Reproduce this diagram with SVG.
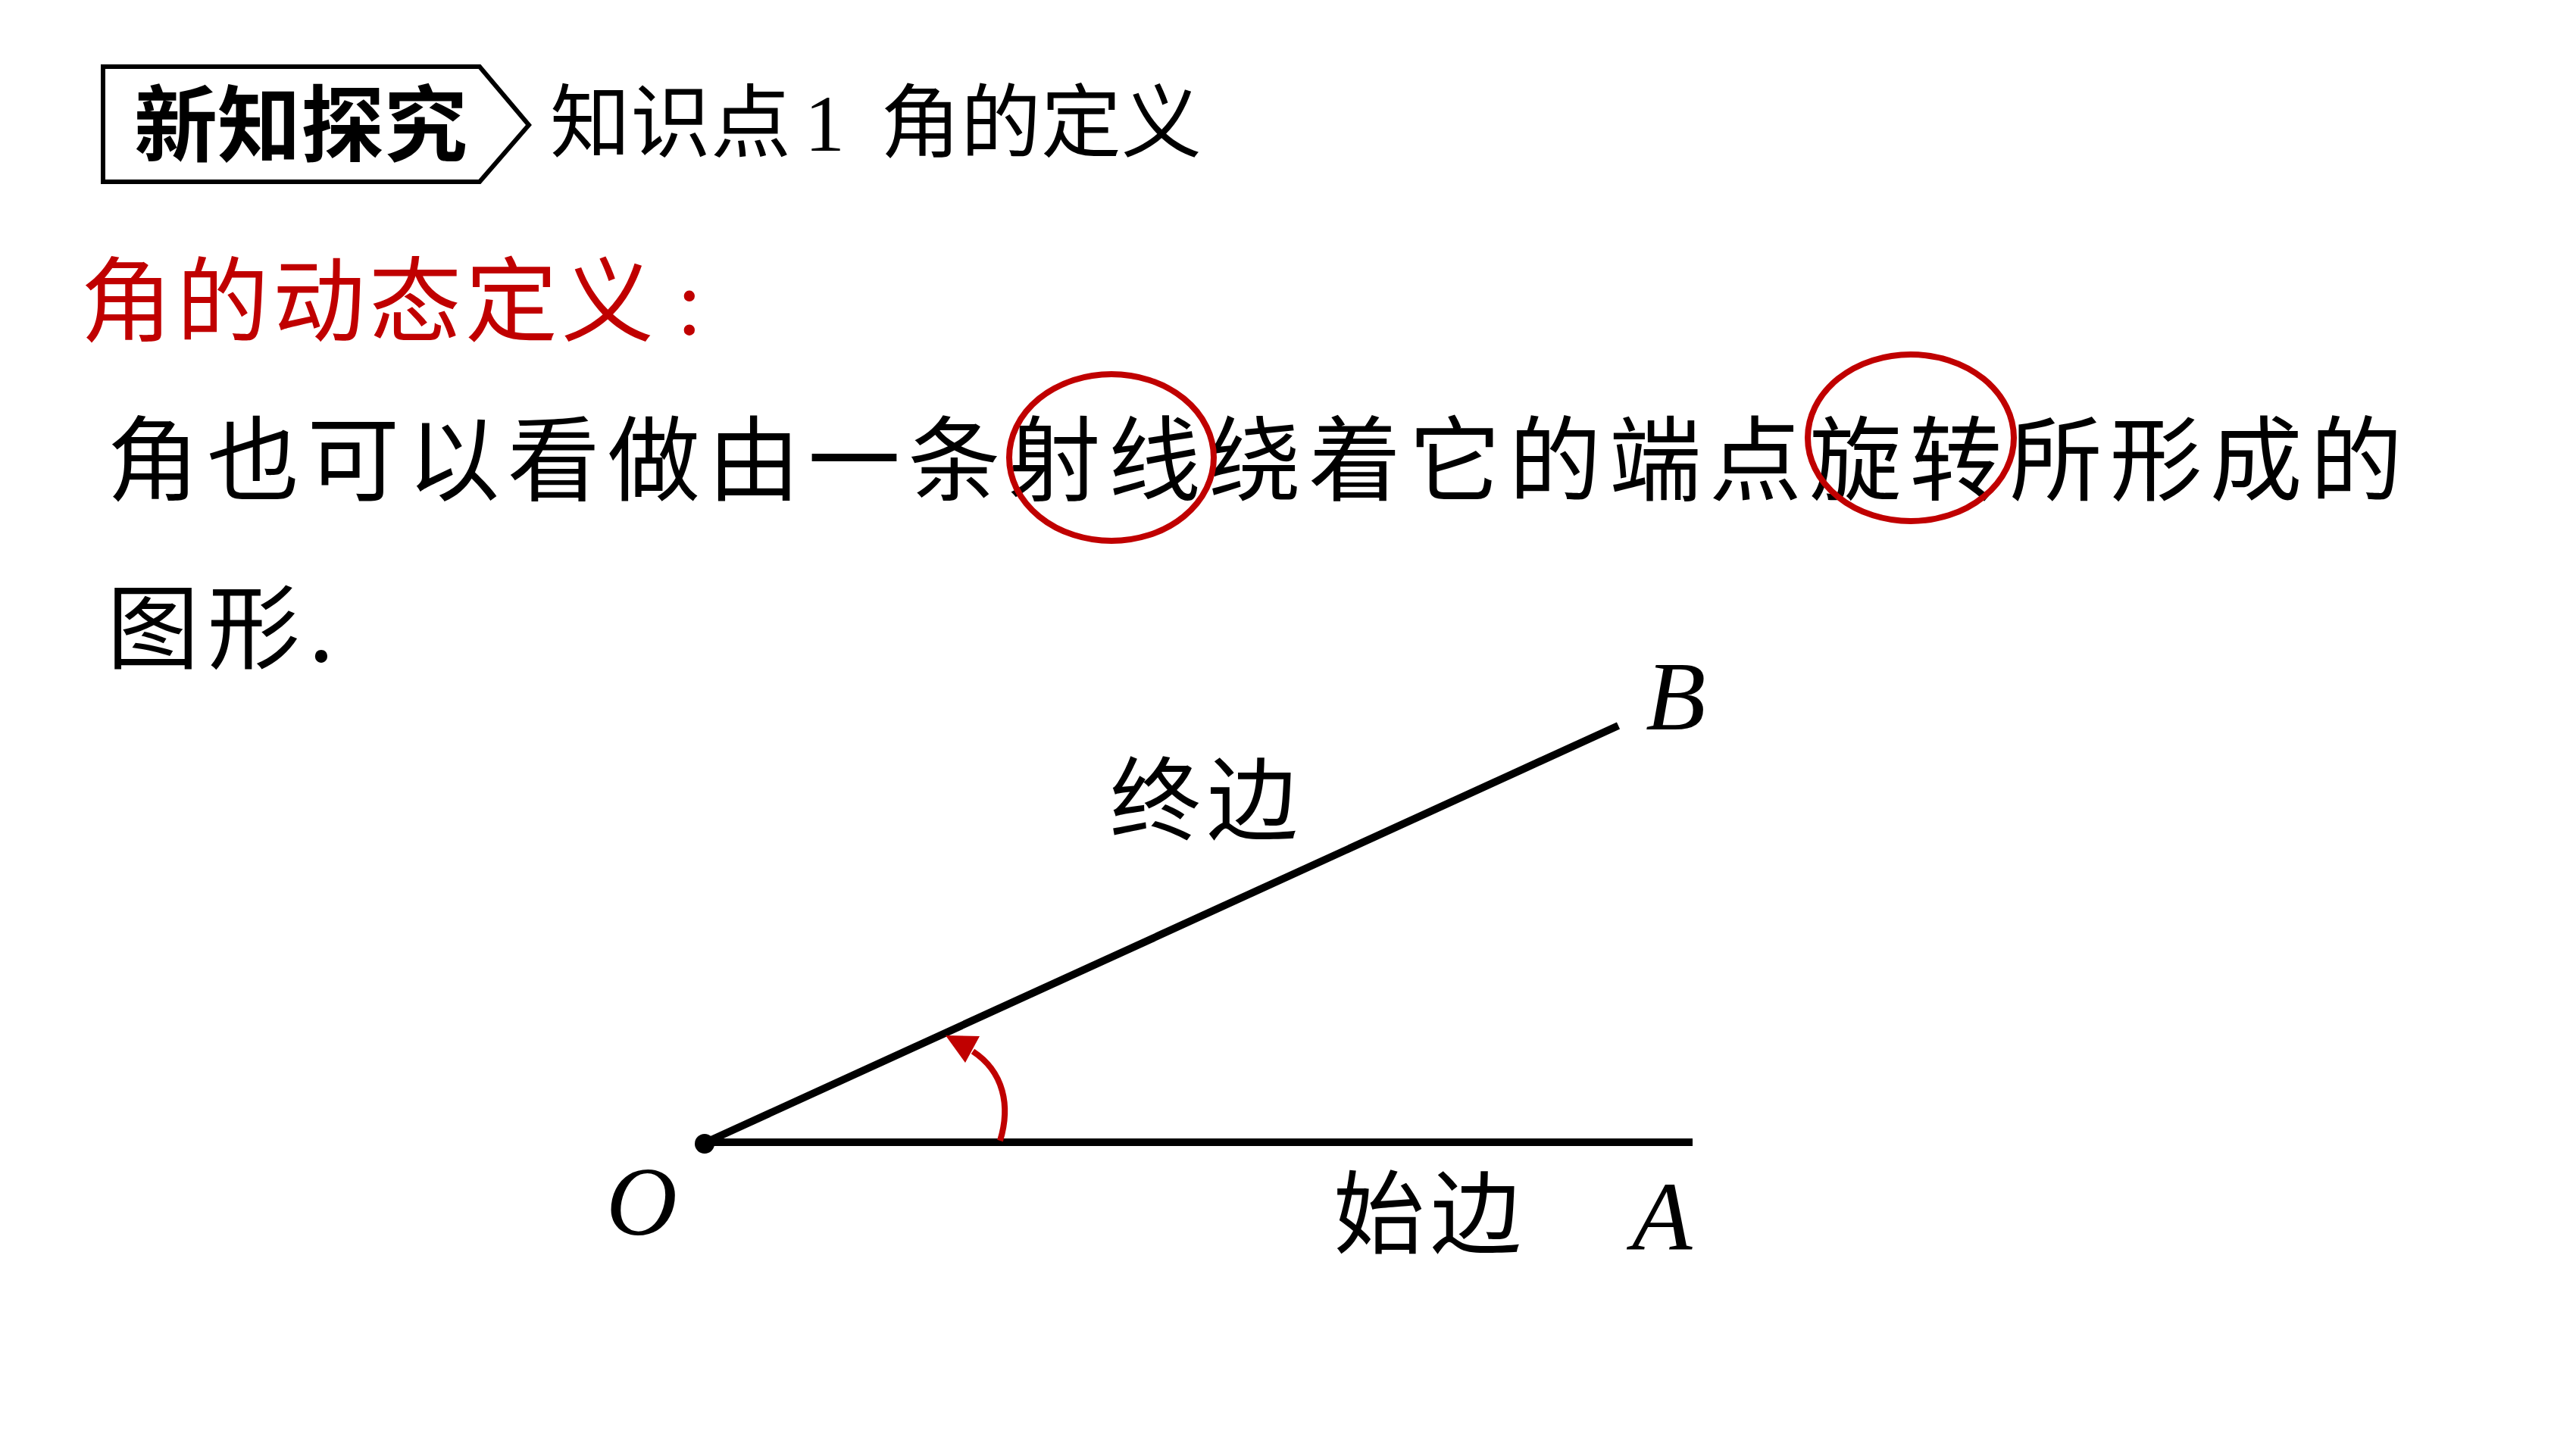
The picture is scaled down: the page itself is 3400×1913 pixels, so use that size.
<svg xmlns="http://www.w3.org/2000/svg" width="3400" height="1913" viewBox="0 0 3400 1913">
<style>
.cjk{font-family:"Noto Sans CJK SC","Noto Sans",sans-serif;}
.lat{font-family:"Liberation Serif",serif;font-style:italic;}
.red{fill:#C00000;}
.blk{fill:#000;}
.ring{fill:none;stroke:#C00000;stroke-width:8;}
</style>
<rect width="3400" height="1913" fill="#fff"/>
<g id="header">
<path d="M136,88 L633,88 L698,165 L633,240 L136,240 Z" fill="#fff" stroke="#000" stroke-width="6" stroke-linejoin="miter"/>
<text class="cjk blk" x="177" y="205" font-size="110" font-weight="700" textLength="440" lengthAdjust="spacing">新知探究</text>
<text class="cjk blk" y="199" font-size="106"><tspan x="726">知识点</tspan><tspan x="1062" font-family="Liberation Serif, serif">1</tspan><tspan x="1162">角的定义</tspan></text>
</g>
<g id="title">
<text class="cjk red" x="106" y="441" font-size="122" letter-spacing="5">角的动态定义<tspan x="893" font-family="Liberation Serif, serif">:</tspan></text>
</g>
<g id="body">
<text class="cjk blk" x="141" y="651" font-size="122" textLength="3030" lengthAdjust="spacing">角也可以看做由一条射线绕着它的端点旋转所形成的</text>
<text class="cjk blk" x="141" y="873" font-size="122" letter-spacing="11">图形.</text>
<ellipse id="ring1" class="ring" cx="1467" cy="604" rx="135" ry="110"/>
<ellipse id="ring2" class="ring" cx="2522" cy="578" rx="136" ry="110"/>
</g>
<g id="connectors">
<line x1="930" y1="1508" x2="2234" y2="1508" stroke="#000" stroke-width="10"/>
<line x1="932" y1="1508" x2="2136" y2="958" stroke="#000" stroke-width="10"/>
<path d="M1320,1506 C1334,1460 1325,1415 1284,1388" fill="none" stroke="#C00000" stroke-width="8"/>
<polygon points="1248,1367 1293,1368 1274,1403" fill="#C00000"/>
</g>
<g id="node-O">
<circle cx="930" cy="1510" r="13" fill="#000"/>
<text class="lat blk" x="800" y="1630" font-size="130">O</text>
</g>
<g id="node-A">
<text class="lat blk" x="2154" y="1650" font-size="130">A</text>
</g>
<g id="node-B">
<text class="lat blk" x="2172" y="963" font-size="130">B</text>
</g>
<g id="label-terminal">
<text class="cjk blk" x="1465" y="1100" font-size="120" letter-spacing="8">终边</text>
</g>
<g id="label-initial">
<text class="cjk blk" x="1760" y="1646" font-size="120" letter-spacing="8">始边</text>
</g>
</svg>
